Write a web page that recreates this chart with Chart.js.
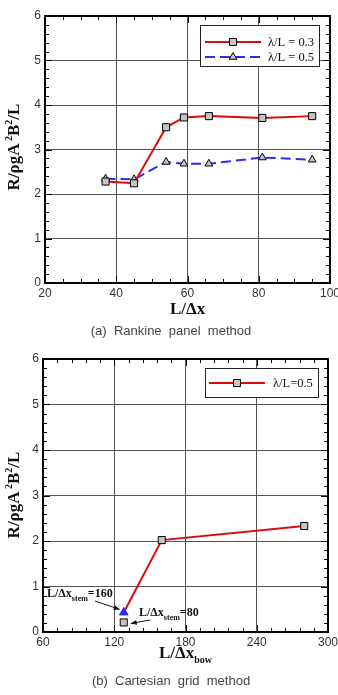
<!DOCTYPE html>
<html><head><meta charset="utf-8">
<script src="https://cdn.jsdelivr.net/npm/chart.js@4.4.1/dist/chart.umd.min.js"></script>
<style>
body{margin:0;background:#fff;width:338px;height:695px;overflow:hidden;position:relative}
canvas{position:absolute;left:0}
#ca{top:0}
#cb{top:345px}
.cap{position:absolute;left:0;width:338px;text-align:center;font:13px "Liberation Sans",Arial,sans-serif;line-height:14px;color:#444;white-space:pre}
</style></head><body>
<canvas id="ca" width="338" height="345"></canvas>
<canvas id="cb" width="338" height="350"></canvas>
<div class="cap" style="top:324px;left:2px">(a)  Rankine  panel  method</div>
<div class="cap" style="top:674px;left:2px">(b)  Cartesian  grid  method</div>
<script>
// ---------- data: chart (a) Rankine panel method ----------
const gridA = [37, 45, 54, 59, 66, 81, 95];            // L/Δx
const resLambda03 = [2.28, 2.24, 3.50, 3.72, 3.75, 3.71, 3.75];
const resLambda05 = [2.34, 2.33, 2.72, 2.68, 2.68, 2.82, 2.77];
const xTicksA = [20, 40, 60, 80, 100];
const yTicks = [0, 1, 2, 3, 4, 5, 6];
const legendA = ['λ/L = 0.3', 'λ/L = 0.5'];

// ---------- data: chart (b) Cartesian grid method ----------
const gridBow = [128, 160, 280];                        // L/Δx_bow
const resBow = [0.43, 2.02, 2.33];                      // λ/L = 0.5
const stem160Bow = [128];
const stem160Res = [0.43];
const stem80Bow = [128];
const stem80Res = [0.21];
const xTicksB = [60, 120, 180, 240, 300];
const legendB = ['λ/L=0.5'];

const SERIF = '"Liberation Serif","Times New Roman",serif';
const SANS = '"Liberation Sans",Arial,sans-serif';
const RED = 'rgb(220,10,10)';
const BLUE = 'rgb(45,45,235)';
const GRAYFILL = '#c4c4c4';

function pts(xs, ys){ return xs.map((x,i)=>({x:x, y:ys[i]})); }

function drawRich(ctx, parts, x, y, align){
  let w = 0;
  parts.forEach(p=>{ ctx.font = 'bold '+p[1]+'px '+SERIF; w += ctx.measureText(p[0]).width; });
  let cx = align==='center' ? x - w/2 : x;
  ctx.textAlign='left'; ctx.textBaseline='alphabetic';
  parts.forEach(p=>{ ctx.font = 'bold '+p[1]+'px '+SERIF; ctx.fillText(p[0], cx, y + p[2]); cx += ctx.measureText(p[0]).width; });
}

function arrow(ctx, x0, y0, x1, y1){
  ctx.beginPath(); ctx.moveTo(x0,y0); ctx.lineTo(x1,y1); ctx.stroke();
  const ang = Math.atan2(y1-y0, x1-x0), L=6, W=2.5;
  ctx.beginPath();
  ctx.moveTo(x1,y1);
  ctx.lineTo(x1 - L*Math.cos(ang) + W*Math.sin(ang), y1 - L*Math.sin(ang) - W*Math.cos(ang));
  ctx.lineTo(x1 - L*Math.cos(ang) - W*Math.sin(ang), y1 - L*Math.sin(ang) + W*Math.cos(ang));
  ctx.closePath(); ctx.fill();
}

function decor(o){
  return { id:'decor', afterDraw(chart){
    const ctx = chart.ctx, a = chart.chartArea, xs = chart.scales.x, ys = chart.scales.y;
    ctx.save();
    ctx.strokeStyle = '#000'; ctx.lineWidth = 1;
    ctx.beginPath();
    const nx = Math.round((xs.max - xs.min)/o.xMinor);
    for(let i=0;i<=nx;i++){
      const v = xs.min + i*o.xMinor;
      const p = Math.round(xs.getPixelForValue(v)) + 0.5;
      const L = o.xMajor.some(m=>Math.abs(m-v)<1e-6) ? 7 : 4;
      ctx.moveTo(p, a.bottom); ctx.lineTo(p, a.bottom - L);
      ctx.moveTo(p, a.top); ctx.lineTo(p, a.top + L);
    }
    const ny = Math.round((ys.max - ys.min)/o.yMinor);
    for(let i=0;i<=ny;i++){
      const v = ys.min + i*o.yMinor;
      const p = Math.round(ys.getPixelForValue(v)) + 0.5;
      const L = yTicks.some(m=>Math.abs(m-v)<1e-6) ? 7 : 4;
      ctx.moveTo(a.left, p); ctx.lineTo(a.left + L, p);
      ctx.moveTo(a.right, p); ctx.lineTo(a.right - L, p);
    }
    ctx.stroke();
    ctx.lineWidth = 2;
    ctx.strokeRect(a.left, a.top, a.right - a.left, a.bottom - a.top);

    const lb = o.legend.box;
    ctx.fillStyle = '#fff'; ctx.fillRect(lb[0], lb[1], lb[2], lb[3]);
    ctx.strokeStyle = '#222'; ctx.lineWidth = 1;
    ctx.strokeRect(lb[0]+0.5, lb[1]+0.5, lb[2], lb[3]);
    o.legend.entries.forEach(e=>{
      const ds = chart.data.datasets[e.ds];
      ctx.save();
      ctx.strokeStyle = ds.borderColor; ctx.lineWidth = ds.borderWidth;
      ctx.setLineDash(ds.borderDash || []);
      ctx.beginPath(); ctx.moveTo(e.x0, e.y); ctx.lineTo(e.x1, e.y); ctx.stroke();
      ctx.setLineDash([]);
      ctx.fillStyle = ds.pointBackgroundColor; ctx.strokeStyle = ds.pointBorderColor; ctx.lineWidth = 1;
      Chart.helpers.drawPoint(ctx, {pointStyle: ds.pointStyle, rotation:0, radius: e.r, borderWidth:1}, (e.x0+e.x1)/2, e.y);
      ctx.restore();
      ctx.fillStyle = '#111'; ctx.font = '12.5px '+SERIF; ctx.textAlign='left'; ctx.textBaseline='middle';
      ctx.fillText(e.label, e.tx, e.y + 0.5);
    });

    ctx.fillStyle = '#111';
    ctx.save();
    ctx.translate(o.yTitle[0], o.yTitle[1]); ctx.rotate(-Math.PI/2);
    drawRich(ctx, [['R/ρgA',17,0],[' 2',10,-7],['B',17,0],['2',10,-7],['/L',17,0]], 0, 6, 'center');
    ctx.restore();
    drawRich(ctx, o.xTitleParts, o.xTitle[0], o.xTitle[1], 'left');

    if (o.extra) o.extra(chart, ctx);
    ctx.restore();
  }};
}

function axisCfg(min, max, ticks, fit, isX, pad){
  return {
    type:'linear', min:min, max:max,
    afterBuildTicks: s => { s.ticks = ticks.map(v=>({value:v})); },
    afterFit: s => {
      if(isX){ s.height = fit; s.paddingLeft = 0; s.paddingRight = 0; }
      else { s.width = fit; s.paddingTop = 0; s.paddingBottom = 0; }
    },
    grid:{ color:'#555', lineWidth:1, drawTicks:false },
    border:{ display:false },
    ticks:{ font:{family:SANS, size:12}, color:'#333', padding:pad, maxRotation:0, autoSkip:false }
  };
}

Chart.defaults.animation = false;

new Chart(document.getElementById('ca'), {
  type:'line',
  data:{ datasets:[
    { data: pts(gridA, resLambda03), borderColor:RED, borderWidth:2, tension:0,
      pointStyle:'rect', pointRadius:5, pointBackgroundColor:GRAYFILL, pointBorderColor:'#000', pointBorderWidth:1 },
    { data: pts(gridA, resLambda05), borderColor:BLUE, borderWidth:2, borderDash:[10,5], tension:0,
      pointStyle:'triangle', pointRadius:4.5, pointBackgroundColor:GRAYFILL, pointBorderColor:'#000', pointBorderWidth:1 }
  ]},
  options:{
    responsive:false, devicePixelRatio:1, events:[],
    layout:{ padding:{left:0, top:16, right:8, bottom:0} },
    plugins:{ legend:{display:false}, tooltip:{enabled:false} },
    scales:{
      x: axisCfg(20, 100, xTicksA, 62, true, 3),
      y: axisCfg(0, 6, yTicks, 45, false, 4)
    }
  },
  plugins:[decor({
    xMinor:5, yMinor:0.2, xMajor:xTicksA,
    legend:{ box:[200, 25, 119, 41], entries:[
      {ds:0, label:legendA[0], x0:205, x1:261, y:42, tx:268, r:5},
      {ds:1, label:legendA[1], x0:205, x1:261, y:57, tx:268, r:4.5}
    ]},
    yTitle:[13, 147],
    xTitle:[170, 314], xTitleParts:[['L/Δx',17,0]]
  })]
});

new Chart(document.getElementById('cb'), {
  type:'line',
  data:{ datasets:[
    { data: pts(stem160Bow, stem160Res), showLine:false, borderColor:BLUE, borderWidth:0,
      pointStyle:'triangle', pointRadius:5, pointBackgroundColor:BLUE, pointBorderColor:BLUE, pointBorderWidth:1 },
    { data: pts(stem80Bow, stem80Res), showLine:false, borderColor:'#000', borderWidth:0,
      pointStyle:'rect', pointRadius:5, pointBackgroundColor:GRAYFILL, pointBorderColor:'#000', pointBorderWidth:1 },
    { data: pts(gridBow, resBow), borderColor:RED, borderWidth:2, tension:0,
      pointStyle:'rect', pointRadius:[0,5,5], pointBackgroundColor:GRAYFILL, pointBorderColor:'#000', pointBorderWidth:1 }
  ]},
  options:{
    responsive:false, devicePixelRatio:1, events:[],
    layout:{ padding:{left:0, top:14, right:10, bottom:0} },
    plugins:{ legend:{display:false}, tooltip:{enabled:false} },
    scales:{
      x: axisCfg(60, 300, xTicksB, 63, true, 3),
      y: axisCfg(0, 6, yTicks, 43, false, 4)
    }
  },
  plugins:[decor({
    xMinor:12, yMinor:0.2, xMajor:xTicksB,
    legend:{ box:[205, 23, 113, 29], entries:[
      {ds:2, label:legendB[0], x0:209, x1:265, y:38, tx:273, r:5}
    ]},
    yTitle:[13, 150],
    xTitle:[159, 313], xTitleParts:[['L/Δx',17,0],['bow',10,5]],
    extra:(chart, ctx)=>{
      const xs = chart.scales.x, ys = chart.scales.y;
      const tx = xs.getPixelForValue(stem160Bow[0]), ty = ys.getPixelForValue(stem160Res[0]);
      const sx = xs.getPixelForValue(stem80Bow[0]), sy = ys.getPixelForValue(stem80Res[0]);
      ctx.fillStyle = '#111';
      drawRich(ctx, [['L/Δx',12,0],['stem',8,4],['=160',12,0]], 47, 252, 'left');
      drawRich(ctx, [['L/Δx',12,0],['stem',8,4],['=80',12,0]], 139, 271, 'left');
      ctx.strokeStyle = '#111'; ctx.lineWidth = 1;
      arrow(ctx, 95, 256, tx - 4, ty - 3);
      arrow(ctx, 150, 275, sx + 7, sy + 1);
    }
  })]
});
</script>
</body></html>
